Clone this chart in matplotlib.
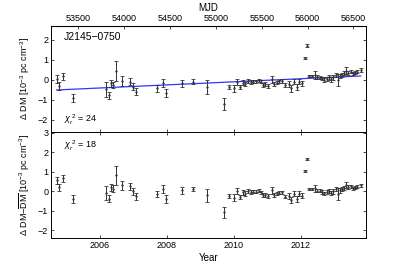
import numpy as np
import matplotlib
matplotlib.use("Agg")
import matplotlib.pyplot as plt

plt.rcParams['font.family'] = ['Liberation Sans', 'DejaVu Sans']
plt.rcParams['mathtext.fontset'] = 'custom'
plt.rcParams['mathtext.rm'] = 'Liberation Sans'
plt.rcParams['mathtext.it'] = 'Liberation Sans:italic'

# Epochs (year) and DM offsets (1e-3 pc cm^-3)
year = [2004.71, 2004.78, 2004.91, 2005.19, 2006.17, 2006.26, 2006.33, 2006.40,
        2006.48, 2006.65, 2006.90, 2006.98, 2007.07, 2007.71, 2007.87, 2007.96,
        2008.46, 2008.79, 2009.21, 2009.70, 2009.86, 2010.01, 2010.10, 2010.18,
        2010.26, 2010.34, 2010.42, 2010.50, 2010.58, 2010.66, 2010.74, 2010.81,
        2010.86, 2010.94, 2011.03, 2011.13, 2011.20, 2011.28, 2011.36, 2011.44,
        2011.54, 2011.63, 2011.71, 2011.80, 2011.87, 2011.95, 2012.02, 2012.11,
        2012.17, 2012.25, 2012.33, 2012.41, 2012.49, 2012.57, 2012.64, 2012.70,
        2012.77, 2012.83, 2012.90, 2012.97, 2013.04, 2013.10, 2013.17, 2013.24,
        2013.30, 2013.35, 2013.42, 2013.49, 2013.55, 2013.61, 2013.68, 2013.78]
dm = [0.05, -0.30, 0.18, -0.88, -0.47, -0.77, -0.17, -0.25,
      0.45, -0.05, -0.08, -0.33, -0.58, -0.42, -0.13, -0.67,
      -0.17, -0.08, -0.37, -1.20, -0.37, -0.42, -0.08, -0.37,
      -0.13, -0.20, -0.07, -0.10, -0.08, -0.07, -0.02, -0.08,
      -0.23, -0.20, -0.28, 0.03, -0.20, -0.13, -0.07, -0.05,
      -0.25, -0.20, -0.42, -0.08, -0.33, -0.08, -0.17, 1.10,
      1.72, 0.20, 0.20, 0.25, 0.13, 0.12, 0.07, 0.00,
      0.07, 0.13, 0.03, 0.13, 0.25, 0.00, 0.20, 0.25,
      0.33, 0.47, 0.37, 0.42, 0.33, 0.37, 0.42, 0.50]
dm_err = [0.18, 0.18, 0.18, 0.20, 0.37, 0.17, 0.18, 0.17,
          0.48, 0.23, 0.18, 0.18, 0.18, 0.17, 0.20, 0.20,
          0.17, 0.12, 0.35, 0.28, 0.10, 0.17, 0.15, 0.10,
          0.12, 0.12, 0.10, 0.08, 0.08, 0.08, 0.08, 0.08,
          0.10, 0.10, 0.10, 0.18, 0.10, 0.08, 0.08, 0.08,
          0.10, 0.15, 0.17, 0.12, 0.15, 0.12, 0.12, 0.06,
          0.06, 0.06, 0.06, 0.18, 0.10, 0.08, 0.08, 0.08,
          0.10, 0.12, 0.12, 0.12, 0.12, 0.30, 0.12, 0.10,
          0.10, 0.16, 0.10, 0.08, 0.08, 0.08, 0.08, 0.08]

# linear DM trend (blue line), end points
fit_year = [2004.71, 2013.78]
fit_dm = [-0.50, 0.20]

psr_name = 'J2145\u22120750'
chi_upper = 24
chi_lower = 18

year = np.array(year)
dm = np.array(dm)
dm_err = np.array(dm_err)
resid = dm - np.interp(year, fit_year, fit_dm)


def year_to_mjd(y):
    return (np.asarray(y) - 2000.0) * 365.25 + 51544.5


def mjd_to_year(m):
    return 2000.0 + (np.asarray(m) - 51544.5) / 365.25


fig = plt.figure(figsize=(4.07, 2.65), dpi=100)
ax1 = fig.add_axes([0.1253, 0.502, 0.7737, 0.400])
ax2 = fig.add_axes([0.1253, 0.102, 0.7737, 0.400], sharex=ax1)

eb = dict(fmt='.', color='#333333', ms=1.4, elinewidth=0.7,
          capsize=1.6, capthick=0.6)
ax1.errorbar(year, dm, yerr=dm_err, **eb)
ax1.plot(fit_year, fit_dm, color='#3333ff', lw=0.9, zorder=0)
ax2.errorbar(year, resid, yerr=dm_err, **eb)

fs = 6.5
for ax in (ax1, ax2):
    ax.tick_params(direction='in', length=2.5, width=0.5, labelsize=fs,
                   right=True, pad=2)
    for s in ax.spines.values():
        s.set_linewidth(0.7)

ax1.set_xlim(2004.54, 2013.94)
ax1.set_ylim(-2.6, 2.7)
ax1.set_yticks([-2, -1, 0, 1, 2])
ax1.tick_params(labelbottom=False, bottom=True)
ax2.set_ylim(-2.4, 3.03)
ax2.set_yticks([-2, -1, 0, 1, 2, 3])
ax2.set_xticks([2006, 2008, 2010, 2012])
ax2.tick_params(top=True)

top = ax1.secondary_xaxis('top', functions=(year_to_mjd, mjd_to_year))
top.set_xticks(np.arange(53500, 56501, 500))
top.tick_params(direction='in', length=2.5, width=0.5, labelsize=fs, pad=2)
top.set_xlabel('MJD', fontsize=fs + 0.5, labelpad=2)

ax1.set_ylabel(r'$\Delta$ DM [10$^{-3}$ pc cm$^{-3}$]', fontsize=fs, labelpad=4)
ax2.set_ylabel(r'$\Delta$ DM$-\overline{\rm DM}$ [10$^{-3}$ pc cm$^{-3}$]',
               fontsize=fs, labelpad=4)
ax2.set_xlabel('Year', fontsize=fs + 0.5, labelpad=2)

ax1.text(0.04, 0.9, psr_name, transform=ax1.transAxes, fontsize=fs + 1,
         va='center')
ax1.text(0.04, 0.11, r'$\chi_r^{\ 2}$ = %d' % chi_upper, transform=ax1.transAxes,
         fontsize=fs, va='center')
ax2.text(0.04, 0.87, r'$\chi_r^{\ 2}$ = %d' % chi_lower, transform=ax2.transAxes,
         fontsize=fs, va='center')

fig.savefig('out.png', dpi=100)
